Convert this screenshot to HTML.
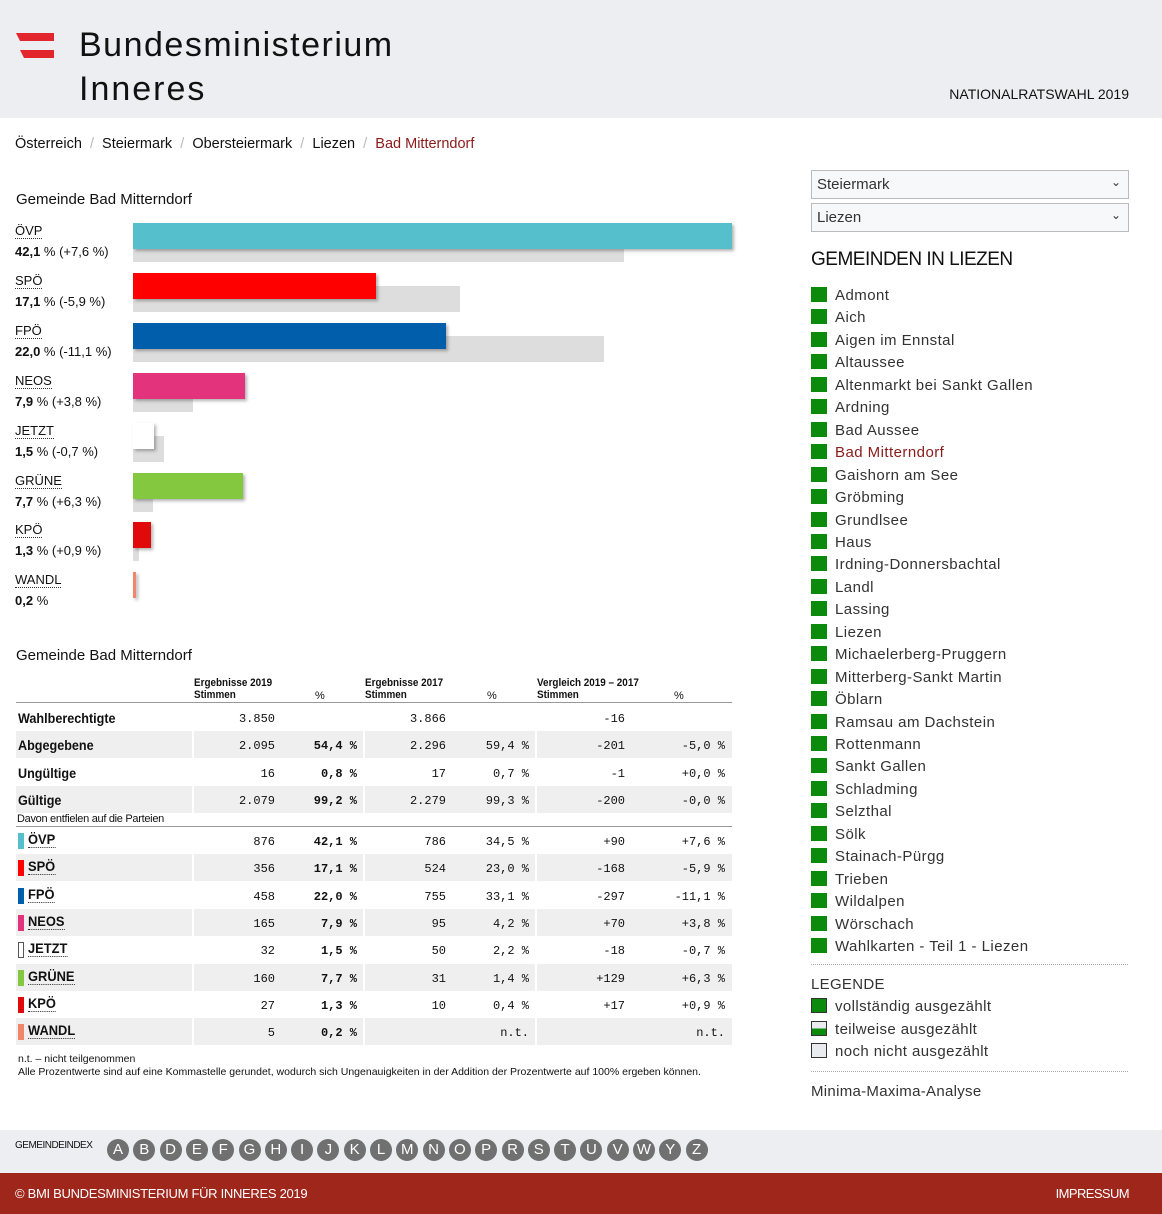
<!DOCTYPE html>
<html><head><meta charset="utf-8">
<style>
*{margin:0;padding:0;box-sizing:border-box}
body{width:1162px;height:1214px;position:relative;background:#fff;font-family:"Liberation Sans",sans-serif;color:#111;overflow:hidden}
.a{position:absolute;white-space:nowrap}
.mono{font-family:"Liberation Mono",monospace;font-size:12px}
.cond{font-family:"Liberation Sans Narrow","Liberation Sans",sans-serif}
</style></head><body>
<div class="a" style="left:0;top:0;width:1162px;height:118px;background:#eceef2"></div>
<svg class="a" style="left:16px;top:33px" width="40" height="26"><polygon points="0,0 38,0 38,8 4,8" fill="#e3262d"/><polygon points="4,17 38,17 38,25 8,25" fill="#e3262d"/></svg>
<div class="a" style="left:79px;top:26px;font-size:34px;letter-spacing:1.5px;color:#111">Bundesministerium</div>
<div class="a" style="left:79px;top:70px;font-size:34px;letter-spacing:2px;font-weight:300;color:#111">Inneres</div>
<div class="a" style="right:33px;top:86px;font-size:14px">NATIONALRATSWAHL 2019</div>

<div class="a" style="left:15px;top:136px;font-size:14.5px;letter-spacing:0px">
<span>Österreich</span><span style="color:#bbb"> &nbsp;/&nbsp; </span><span>Steiermark</span><span style="color:#bbb"> &nbsp;/&nbsp; </span><span>Obersteiermark</span><span style="color:#bbb"> &nbsp;/&nbsp; </span><span>Liezen</span><span style="color:#bbb"> &nbsp;/&nbsp; </span><span style="color:#8b1a1a">Bad Mitterndorf</span></div>

<div class="a" style="left:16px;top:191px;font-size:15px">Gemeinde Bad Mitterndorf</div>
<div id="chart"></div>

<div class="a" style="left:16px;top:647px;font-size:15px">Gemeinde Bad Mitterndorf</div>
<div id="table"></div>
<div class="a" style="left:18px;top:1053px;font-size:10.5px;line-height:13px;white-space:normal;width:685px">n.t. – nicht teilgenommen<br>Alle Prozentwerte sind auf eine Kommastelle gerundet, wodurch sich Ungenauigkeiten in der Addition der Prozentwerte auf 100% ergeben können.</div>

<div class="a" style="left:811px;top:170px;width:318px;height:29px;border:1px solid #bbb;background:#f7f8fa;font-size:15px;padding:5px 5px;color:#333">Steiermark<span style="position:absolute;right:7px;top:4px;font-size:12px">⌄</span></div>
<div class="a" style="left:811px;top:203px;width:318px;height:29px;border:1px solid #bbb;background:#f7f8fa;font-size:15px;padding:5px 5px;color:#333">Liezen<span style="position:absolute;right:7px;top:4px;font-size:12px">⌄</span></div>
<div class="a" style="left:811px;top:249px;font-size:19px;letter-spacing:-0.5px">GEMEINDEN IN LIEZEN</div>
<div id="glist"></div>
<div class="a" style="left:811px;top:964px;width:317px;border-top:1px dotted #aaa"></div>
<div class="a" style="left:811px;top:976px;font-size:15px;color:#333;letter-spacing:0.3px">LEGENDE</div>
<div class="a" style="left:811px;top:998px;width:16px;height:15px;background:#0c8a0c;border:1px solid #333"></div>
<div class="a" style="left:835px;top:998px;font-size:15px;color:#333;letter-spacing:0.4px">vollständig ausgezählt</div>
<div class="a" style="left:811px;top:1021px;width:16px;height:15px;background:linear-gradient(#e9ebef 50%,#0c8a0c 50%);border:1px solid #333"></div>
<div class="a" style="left:835px;top:1021px;font-size:15px;color:#333;letter-spacing:0.4px">teilweise ausgezählt</div>
<div class="a" style="left:811px;top:1043px;width:16px;height:15px;background:#e9ebef;border:1px solid #333"></div>
<div class="a" style="left:835px;top:1043px;font-size:15px;color:#333;letter-spacing:0.4px">noch nicht ausgezählt</div>
<div class="a" style="left:811px;top:1071px;width:317px;border-top:1px dotted #aaa"></div>
<div class="a" style="left:811px;top:1083px;font-size:15px;color:#333;letter-spacing:0.3px">Minima-Maxima-Analyse</div>

<div class="a" style="left:0;top:1130px;width:1162px;height:43px;background:#eceef2"></div>
<div class="a cond" style="left:15px;top:1140px;font-size:10px;letter-spacing:-0.5px">GEMEINDEINDEX</div>
<div id="idx"></div>
<div class="a" style="left:0;top:1173px;width:1162px;height:41px;background:#9e261b"></div>
<div class="a cond" style="left:15px;top:1186px;font-size:13px;color:#fff;letter-spacing:-0.3px">© BMI BUNDESMINISTERIUM FÜR INNERES 2019</div>
<div class="a cond" style="right:33px;top:1186px;font-size:13px;color:#fff;letter-spacing:-0.6px">IMPRESSUM</div>

<script>
const parties=["ÖVP","SPÖ","FPÖ","NEOS","JETZT","GRÜNE","KPÖ","WANDL"];
const colors=["#56bfcc","#f00","#005eab","#e3337d","#fff","#84c83f","#e10a0a","#f0866a"];
const pct2019=[42.1,17.1,22.0,7.9,1.5,7.7,1.3,0.2];
const pct2017=[34.5,23.0,33.1,4.2,2.2,1.4,0.4,null];
const diffPct=["+7,6","-5,9","-11,1","+3,8","-0,7","+6,3","+0,9",null];
const votes2019=[876,356,458,165,32,160,27,5];
const votes2017=[786,524,755,95,50,31,10,null];
const diffVotes=["+90","-168","-297","+70","-18","+129","+17",null];
const x0=133,scale=599/42.1;
const xs=v=>v*scale;
const fmt=v=>v.toFixed(1).replace('.',',');
const chart=document.getElementById('chart');
function add(parent,html,style,name,inter){const d=document.createElement('div');d.className='a';d.innerHTML=html;d.style.cssText=style;


parent.appendChild(d);return d;}
parties.forEach((p,i)=>{
 const y=223+i*49.9;
 add(chart,p,`left:15px;top:${y+1}px;font-size:13px;border-bottom:1px dotted #333;line-height:14px`,'party-label',true);
 add(chart,`<b>${fmt(pct2019[i])}</b> %`+(diffPct[i]?` (${diffPct[i]} %)`:''),`left:15px;top:${y+21}px;font-size:13px`,'party-value',false);
 if(pct2017[i]!==null) add(chart,'',`left:${x0}px;top:${y+13}px;width:${xs(pct2017[i])}px;height:26px;background:#ddd`,'bar-2017',false);
 add(chart,'',`left:${x0}px;top:${y}px;width:${Math.max(xs(pct2019[i]),3)}px;height:26px;background:${colors[i]};box-shadow:2px 2px 3px rgba(0,0,0,0.3)`,'bar-2019',false);
});
const T=document.getElementById('table');
const colR=[275,357,446,529,625,725];
add(T,'Ergebnisse 2019<br>Stimmen','left:194px;top:677px;font-size:11px;font-weight:bold;line-height:12px;transform:scaleX(.9);transform-origin:left','col-header',false);
add(T,'%','left:315px;top:690px;font-size:11px','col-header',false);
add(T,'Ergebnisse 2017<br>Stimmen','left:365px;top:677px;font-size:11px;font-weight:bold;line-height:12px;transform:scaleX(.9);transform-origin:left','col-header',false);
add(T,'%','left:487px;top:690px;font-size:11px','col-header',false);
add(T,'Vergleich 2019 – 2017<br>Stimmen','left:537px;top:677px;font-size:11px;font-weight:bold;line-height:12px;transform:scaleX(.9);transform-origin:left','col-header',false);
add(T,'%','left:674px;top:690px;font-size:11px','col-header',false);
add(T,'','left:16px;top:702px;width:716px;border-top:1px solid #999','header-rule',false);
const genLabels=["Wahlberechtigte","Abgegebene","Ungültige","Gültige"];
const genVals=[["3.850","","3.866","","-16",""],["2.095","54,4 %","2.296","59,4 %","-201","-5,0 %"],["16","0,8 %","17","0,7 %","-1","+0,0 %"],["2.079","99,2 %","2.279","99,3 %","-200","-0,0 %"]];
function row(top,shade,label,vals,ci){
 add(T,'',`left:16px;top:${top}px;width:716px;height:27px;background:${shade?'#efefef':'#fff'}`,'table-row',false);
 [192,363,535].forEach(x=>add(T,'',`left:${x}px;top:${top}px;width:2px;height:27px;background:#fff`,'col-separator',false));
 if(ci!==undefined){add(T,'',`left:18px;top:${top+6}px;width:6px;height:16px;background:${colors[ci]};border:${ci==4?'1px solid #555':'none'}`,'party-color',false);
  add(T,label,`left:28px;top:${top+5}px;font-size:14px;font-weight:bold;border-bottom:1px dotted #333;line-height:15px;transform:scaleX(.92);transform-origin:left`,'party-name',true);}
 else add(T,label,`left:18px;top:${top+6}px;font-size:14px;font-weight:bold;transform:scaleX(.9);transform-origin:left`,'row-label',false);
 vals.forEach((v,k)=>{ if(v!=='') add(T,v,`right:${1162-colR[k]}px;top:${top+8}px;${k==1?'font-weight:bold;':''}`,'cell',false).classList.add('mono');});
}
genLabels.forEach((l,i)=>row(704+i*27.3,i%2==1,l,genVals[i]));
add(T,'Davon entfielen auf die Parteien','left:17px;top:813px;font-size:11px;letter-spacing:-0.3px','parties-subheader',false);
add(T,'','left:16px;top:826px;width:716px;border-top:1px solid #999','rule',false);
parties.forEach((p,i)=>{
 const v=[String(votes2019[i]),fmt(pct2019[i])+' %',votes2017[i]===null?'':String(votes2017[i]),pct2017[i]===null?'n.t.':fmt(pct2017[i])+' %',diffVotes[i]===null?'':diffVotes[i],diffPct[i]===null?'n.t.':diffPct[i]+' %'];
 row(827+i*27.3,i%2==1,p,v,i);
});
const gemeinden=["Admont","Aich","Aigen im Ennstal","Altaussee","Altenmarkt bei Sankt Gallen","Ardning","Bad Aussee","Bad Mitterndorf","Gaishorn am See","Gröbming","Grundlsee","Haus","Irdning-Donnersbachtal","Landl","Lassing","Liezen","Michaelerberg-Pruggern","Mitterberg-Sankt Martin","Öblarn","Ramsau am Dachstein","Rottenmann","Sankt Gallen","Schladming","Selzthal","Sölk","Stainach-Pürgg","Trieben","Wildalpen","Wörschach","Wahlkarten - Teil 1 - Liezen"];
const G=document.getElementById('glist');
gemeinden.forEach((g,i)=>{const y=287+i*22.45;
 add(G,'',`left:811px;top:${y}px;width:16px;height:15px;background:#0c8a0c`,'status-icon',false);
 add(G,g,`left:835px;top:${y}px;font-size:15px;letter-spacing:0.45px;color:${g=='Bad Mitterndorf'?'#8b1a1a':'#333'}`,'gemeinde-link',true);
});
const letters="ABDEFGHIJKLMNOPRSTUVWYZ".split('');
const I=document.getElementById('idx');
letters.forEach((l,i)=>add(I,l,`left:${107+i*26.3}px;top:1139px;width:22px;height:22px;border-radius:50%;background:#707070;color:#fff;font-size:15px;text-align:center;line-height:22px`,'index-letter',true));
</script>
</body></html>
